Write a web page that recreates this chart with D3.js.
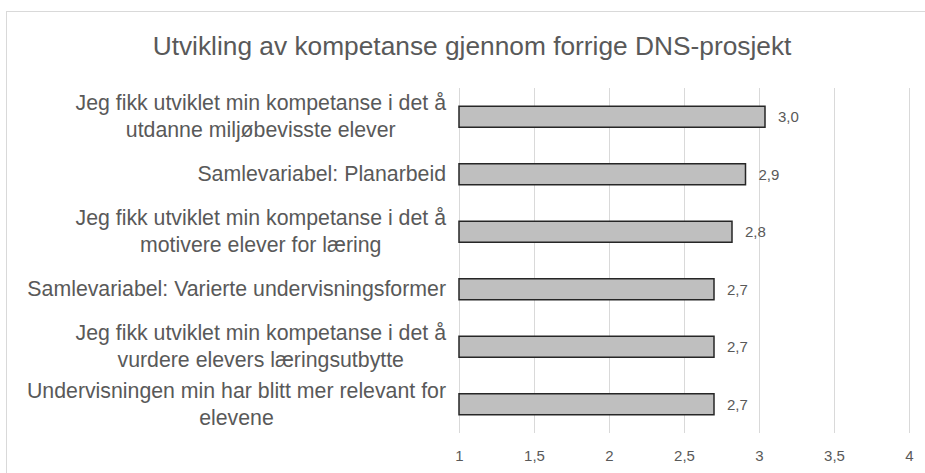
<!DOCTYPE html>
<html lang="no">
<head>
<meta charset="UTF-8">
<title>Utvikling av kompetanse</title>
<script src="https://d3js.org/d3.v7.min.js"></script>
<style>
  body { margin: 0; background: #fff; }
  svg text { font-family: "Liberation Sans", Arial, sans-serif; fill: #595959; }
</style>
</head>
<body>
<svg id="chart" width="925" height="473"></svg>
<script>
// kategorier (linjeskift som i originalen)
const categories = [
  "Jeg fikk utviklet min kompetanse i det å\nutdanne miljøbevisste elever",
  "Samlevariabel: Planarbeid",
  "Jeg fikk utviklet min kompetanse i det å\nmotivere elever for læring",
  "Samlevariabel: Varierte undervisningsformer",
  "Jeg fikk utviklet min kompetanse i det å\nvurdere elevers læringsutbytte",
  "Undervisningen min har blitt mer relevant for\nelevene"
];
const values = [3.04, 2.91, 2.82, 2.70, 2.70, 2.70];
const xTicks = [1, 1.5, 2, 2.5, 3, 3.5, 4];
const title = "Utvikling av kompetanse gjennom forrige DNS-prosjekt";

const svg = d3.select("#chart");
const fmt = d => d3.format(".1f")(d).replace(".", ",");

// ramme rundt diagrammet
svg.append("rect")
  .attr("x", 6.5).attr("y", 11.5)
  .attr("width", 940).attr("height", 480)
  .attr("fill", "none").attr("stroke", "#d9d9d9");

svg.append("text")
  .attr("x", 472).attr("y", 46)
  .attr("text-anchor", "middle").attr("dominant-baseline", "central")
  .style("font-size", "26.3px")
  .text(title);

const x = d3.scaleLinear().domain([1, 4]).range([459, 909]);
const y = d3.scaleBand().domain(categories).range([88, 433])
  .paddingInner(0.635).paddingOuter(0.3175);

// rutenett
svg.append("g").selectAll("line").data(xTicks).join("line")
  .attr("x1", d => x(d) + 0.5).attr("x2", d => x(d) + 0.5)
  .attr("y1", 88).attr("y2", 433)
  .attr("stroke", "#d9d9d9").attr("stroke-width", 1);

// akse-etiketter
const xAxis = svg.append("g").attr("transform", "translate(0,433)")
  .call(d3.axisBottom(x).tickValues(xTicks).tickSize(0).tickPadding(17).tickFormat(d => String(d).replace(".", ",")));
xAxis.select(".domain").remove();
xAxis.selectAll("text").style("font-size", "15px");

// stolper
svg.append("g").selectAll("rect").data(values).join("rect")
  .attr("x", x(1))
  .attr("y", (d, i) => y(categories[i]))
  .attr("width", d => x(d) - x(1))
  .attr("height", y.bandwidth())
  .attr("fill", "#bfbfbf").attr("stroke", "#262626").attr("stroke-width", 1.5);

// verdietiketter
svg.append("g").selectAll("text").data(values).join("text")
  .attr("x", d => x(d) + 13)
  .attr("y", (d, i) => y(categories[i]) + y.bandwidth() / 2)
  .attr("dominant-baseline", "central")
  .style("font-size", "15px")
  .text(fmt);

// kategorietiketter: linjer sentrert i blokk, blokk høyrejustert
const lineH = 27;
const labelRight = 446;
categories.forEach(c => {
  const lines = c.split("\n");
  const cy = y(c) + y.bandwidth() / 2;
  const t = svg.append("text").style("font-size", "21.3px")
    .attr("text-anchor", "middle").attr("dominant-baseline", "central");
  const spans = lines.map((l, i) => t.append("tspan")
    .attr("y", cy + (i - (lines.length - 1) / 2) * lineH).text(l));
  const w = d3.max(spans, s => s.node().getComputedTextLength());
  spans.forEach(s => s.attr("x", labelRight - w / 2));
});
</script>
</body>
</html>
